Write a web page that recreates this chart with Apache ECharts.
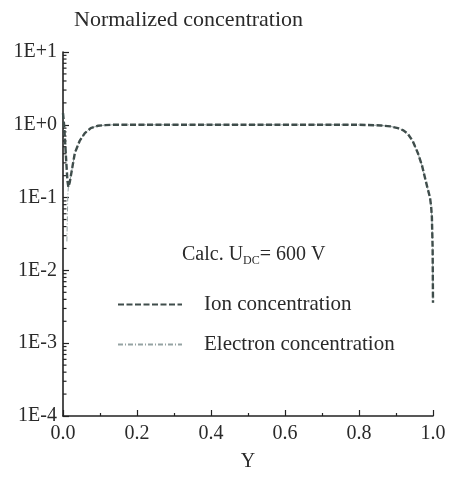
<!DOCTYPE html>
<html>
<head>
<meta charset="utf-8">
<script src="https://cdn.jsdelivr.net/npm/echarts@6/dist/echarts.min.js"></script>
<style>
  html, body { margin: 0; padding: 0; background: #fff; }
  #chart { width: 450px; height: 486px; }
</style>
</head>
<body>
<div id="chart"></div>
<script>
// Position across the gap (normalized) and normalized concentrations
const ionY = [0, 0.003, 0.006, 0.009, 0.012, 0.0145, 0.018, 0.024, 0.032, 0.045, 0.059, 0.075, 0.095, 0.115, 0.135,
  0.2, 0.3, 0.4, 0.5, 0.6, 0.7, 0.8, 0.86, 0.885, 0.905, 0.92, 0.932, 0.945, 0.959, 0.97, 0.978, 0.986, 0.992, 0.995,
  0.997, 0.999, 1.0];
const ionConc = [1.45, 1.0, 0.55, 0.3, 0.17, 0.14, 0.16, 0.24, 0.41, 0.6, 0.77, 0.9, 0.97, 0.99, 1.0,
  1.0, 1.0, 1.0, 1.0, 1.0, 1.0, 1.0, 0.98, 0.95, 0.9, 0.84, 0.75, 0.6, 0.41, 0.28, 0.19, 0.13, 0.10, 0.075,
  0.054, 0.02, 0.0036];

const electronY = [0.0105, 0.012, 0.013, 0.0145, 0.018, 0.024, 0.032, 0.045, 0.059, 0.075, 0.095, 0.115, 0.135,
  0.2, 0.3, 0.4, 0.5, 0.6, 0.7, 0.8, 0.86, 0.885, 0.905, 0.92, 0.932, 0.945, 0.959, 0.97, 0.978, 0.986, 0.992, 0.995,
  0.997, 0.999, 1.0];
const electronConc = [0.025, 0.06, 0.11, 0.14, 0.16, 0.24, 0.41, 0.6, 0.77, 0.9, 0.97, 0.99, 1.0,
  1.0, 1.0, 1.0, 1.0, 1.0, 1.0, 1.0, 0.98, 0.95, 0.9, 0.84, 0.75, 0.6, 0.41, 0.28, 0.19, 0.13, 0.10, 0.075,
  0.054, 0.02, 0.0036];

// Axis ranges and tick labels
const xTicks = ['0.0', '0.2', '0.4', '0.6', '0.8', '1.0'];
const yDecades = ['1E-4', '1E-3', '1E-2', '1E-1', '1E+0', '1E+1'];
const yMin = 1e-4, yMax = 10;

// Intermediate log ticks (2..9 within each decade)
const logMinor = [];
for (let k = -4; k < 1; k++) {
  for (let m = 2; m <= 9; m++) logMinor.push([0, m * Math.pow(10, k)]);
}

const FONT = '"Liberation Serif", "DejaVu Serif", serif';
const TXT = '#2a2a2a';
const ION_COLOR = '#3f4d4b';
const ELECTRON_COLOR = '#95a3a3';

const pairs = (xs, ys) => xs.map((x, i) => [x, ys[i]]);

const chart = echarts.init(document.getElementById('chart'), null, { renderer: 'canvas' });

chart.setOption({
  animation: false,
  backgroundColor: '#fff',
  title: {
    text: 'Normalized concentration',
    left: 69, top: 4,
    textStyle: { fontFamily: FONT, fontSize: 22, fontWeight: 'normal', color: TXT }
  },
  grid: { left: 63, right: 17, top: 52, bottom: 70 },
  legend: {
    orient: 'vertical',
    left: 112, top: 289,
    itemWidth: 64, itemHeight: 14, itemGap: 19,
    itemStyle: { opacity: 0 },
    textStyle: { fontFamily: FONT, fontSize: 21, color: TXT, padding: [0, 0, 0, 17] },
    data: ['Ion concentration', 'Electron concentration']
  },
  graphic: [{
    type: 'text',
    left: 182, top: 245,
    style: {
      text: '{a|Calc. U}{s|DC}{a|= 600 V}',
      rich: {
        a: { fontFamily: FONT, fontSize: 20, fill: TXT },
        s: { fontFamily: FONT, fontSize: 12, fill: TXT, padding: [12, 0, 0, 0] }
      }
    }
  }],
  xAxis: {
    type: 'value',
    min: 0, max: 1, interval: 0.2,
    name: 'Y', nameLocation: 'middle', nameGap: 36,
    nameTextStyle: { fontFamily: FONT, fontSize: 20, color: TXT },
    axisLine: { lineStyle: { color: '#222', width: 1.6 } },
    axisTick: { inside: true, length: 6, lineStyle: { color: '#222', width: 1.2 } },
    minorTick: { show: true, splitNumber: 2, length: 3, lineStyle: { color: '#222', width: 1.2 } },
    splitLine: { show: false },
    axisLabel: {
      margin: 8, fontFamily: FONT, fontSize: 20, color: TXT,
      formatter: v => xTicks[Math.round(v / 0.2)]
    }
  },
  yAxis: {
    type: 'log', logBase: 10, min: yMin, max: yMax,
    axisLine: { show: true, lineStyle: { color: '#222', width: 1.6 } },
    axisTick: { show: true, inside: true, length: 6, lineStyle: { color: '#222', width: 1.2 } },
    splitLine: { show: false },
    axisLabel: {
      margin: 6, fontFamily: FONT, fontSize: 20, color: TXT,
      formatter: v => yDecades[Math.round(Math.log10(v)) + 4]
    }
  },
  series: [
    {
      name: 'Electron concentration',
      type: 'line',
      data: pairs(electronY, electronConc),
      showSymbol: false, symbol: 'none',
      itemStyle: { color: ELECTRON_COLOR },
      lineStyle: { color: ELECTRON_COLOR, width: 1, type: [5, 2, 1, 2] },
      z: 2
    },
    {
      name: 'Ion concentration',
      type: 'line',
      data: pairs(ionY, ionConc),
      showSymbol: false, symbol: 'none',
      itemStyle: { color: ION_COLOR },
      lineStyle: { color: ION_COLOR, width: 2.4, type: [6, 2.5] },
      z: 3
    },
    {
      type: 'custom',
      silent: true,
      clip: false,
      data: logMinor,
      renderItem: (params, api) => {
        const p = api.coord([api.value(0), api.value(1)]);
        return {
          type: 'line',
          shape: { x1: p[0], y1: p[1], x2: p[0] + 3.5, y2: p[1] },
          style: { stroke: '#222', lineWidth: 1.2 }
        };
      },
      z: 1
    }
  ]
});
</script>
</body>
</html>
